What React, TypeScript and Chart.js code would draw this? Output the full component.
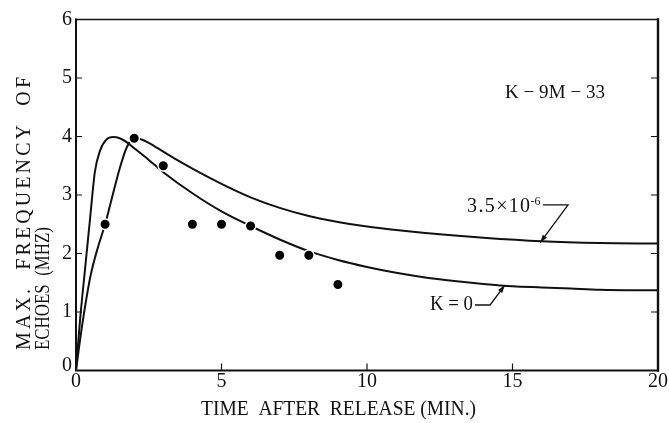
import React, { useEffect, useRef } from "react";
import { Chart, registerables } from "chart.js";

Chart.register(...registerables);

// ---- data ----
const xTicks = [0, 5, 10, 15, 20];
const yTicks = [0, 1, 2, 3, 4, 5, 6];

const obsTime = [1, 2, 3, 4, 5, 6, 7, 8, 9];
const obsFreq = [2.5, 3.97, 3.5, 2.5, 2.5, 2.47, 1.97, 1.97, 1.47];

// curve for K = 3.5x10^-6
const upperTime = [0, 0.1, 0.25, 0.5, 0.75, 1.0, 1.25, 1.5, 1.75, 2.0, 2.25, 2.5, 3, 3.5, 4, 5, 6, 7, 8, 9, 10, 11, 12, 14, 16, 18, 20];
const upperFreq = [0, 0.38, 0.9, 1.62, 2.1, 2.5, 2.98, 3.45, 3.82, 3.97, 3.95, 3.89, 3.74, 3.59, 3.45, 3.19, 2.96, 2.78, 2.64, 2.54, 2.46, 2.4, 2.35, 2.27, 2.21, 2.18, 2.17];

// curve for K = 0
const lowerTime = [0, 0.14, 0.31, 0.48, 0.65, 0.82, 1.05, 1.28, 1.5, 1.75, 2.0, 2.5, 3, 4, 5, 6, 7, 8, 9, 10, 11, 12, 13, 14, 15, 16, 17, 18, 20];
const lowerFreq = [0, 0.87, 1.73, 2.58, 3.4, 3.75, 3.95, 3.99, 3.97, 3.9, 3.8, 3.6, 3.39, 3.03, 2.72, 2.47, 2.24, 2.04, 1.89, 1.77, 1.67, 1.59, 1.53, 1.48, 1.44, 1.42, 1.4, 1.38, 1.37];

const xTitle = "TIME  AFTER  RELEASE (MIN.)";
const yTitle = ["MAX.  FREQUENCY  OF", "ECHOES  (MHZ)"];
const idLabel = "K − 9M − 33";
const upperLabel = "3.5×10";
const upperExp = "-6";
const lowerLabel = "K = 0";

// annotation anchors in data units
const idPos = [16.46, 4.75];
const upperTextPos = [13.44, 2.8];
const upperElbow = [[16.05, 2.83], [16.91, 2.83]];
const upperTip = [15.95, 2.185];
const lowerTextPos = [13.64, 1.12];
const lowerElbow = [[13.71, 1.12], [14.23, 1.12]];
const lowerTip = [14.74, 1.46];

const FONT = '"Liberation Serif", "Times New Roman", "DejaVu Serif", serif';
const INK = "#111";

type Align = "left" | "center" | "right";

function drawText(
  ctx: CanvasRenderingContext2D,
  text: string,
  x: number,
  y: number,
  opts: { size: number; align?: Align; width?: number; rot?: number }
) {
  ctx.save();
  ctx.font = `${opts.size}px ${FONT}`;
  ctx.fillStyle = INK;
  ctx.textBaseline = "middle";
  ctx.textAlign = "left";
  ctx.translate(x, y);
  if (opts.rot) ctx.rotate(opts.rot);
  const natural = ctx.measureText(text).width;
  let w = natural;
  let sx = 1;
  let ls = 0;
  const chars = Array.from(text);
  if (opts.width) {
    if (natural > opts.width) sx = opts.width / natural;
    else if (chars.length > 1) ls = (opts.width - natural) / (chars.length - 1);
    w = opts.width;
  }
  const off = opts.align === "center" ? -w / 2 : opts.align === "right" ? -w : 0;
  ctx.translate(off, 0);
  ctx.scale(sx, 1);
  if (ls) {
    let cx = 0;
    for (const ch of chars) {
      ctx.fillText(ch, cx, 0);
      cx += ctx.measureText(ch).width + ls;
    }
  } else {
    ctx.fillText(text, 0, 0);
  }
  ctx.restore();
}

function arrowHead(ctx: CanvasRenderingContext2D, fx: number, fy: number, tx: number, ty: number) {
  const ang = Math.atan2(ty - fy, tx - fx);
  const len = 8;
  const half = 2.6;
  ctx.beginPath();
  ctx.moveTo(tx, ty);
  ctx.lineTo(tx - len * Math.cos(ang) + half * Math.sin(ang), ty - len * Math.sin(ang) - half * Math.cos(ang));
  ctx.lineTo(tx - len * Math.cos(ang) - half * Math.sin(ang), ty - len * Math.sin(ang) + half * Math.cos(ang));
  ctx.closePath();
  ctx.fill();
}

const paperPlugin = {
  id: "paper",
  afterDraw(chart: any) {
    const { ctx, chartArea: a, scales } = chart;
    const xs = scales.x;
    const ys = scales.y;
    const X = (v: number) => xs.getPixelForValue(v);
    const Y = (v: number) => ys.getPixelForValue(v);
    ctx.save();
    ctx.strokeStyle = INK;
    ctx.fillStyle = INK;
    ctx.lineCap = "square";

    // frame
    ctx.lineWidth = 2;
    ctx.beginPath();
    ctx.moveTo(a.left, a.top);
    ctx.lineTo(a.left, a.bottom);
    ctx.lineTo(a.right, a.bottom);
    ctx.stroke();
    ctx.lineWidth = 1.6;
    ctx.beginPath();
    ctx.moveTo(a.left, a.top);
    ctx.lineTo(a.right, a.top);
    ctx.stroke();
    ctx.lineWidth = 2.4;
    ctx.beginPath();
    ctx.moveTo(a.right, a.top);
    ctx.lineTo(a.right, a.bottom);
    ctx.stroke();

    // inward ticks
    ctx.lineWidth = 1.2;
    ctx.lineCap = "butt";
    for (const v of yTicks) {
      if (v <= 0 || v >= 6) continue;
      const py = Y(v);
      ctx.beginPath();
      ctx.moveTo(a.left, py);
      ctx.lineTo(a.left + 6, py);
      ctx.moveTo(a.right - 7, py);
      ctx.lineTo(a.right, py);
      ctx.stroke();
    }
    for (const v of xTicks) {
      if (v <= 0 || v >= 20) continue;
      const px = X(v);
      ctx.beginPath();
      ctx.moveTo(px, a.bottom);
      ctx.lineTo(px, a.bottom - 7);
      ctx.stroke();
    }

    // tick labels
    for (const v of yTicks) {
      drawText(ctx, String(v), a.left - 4, Y(v) - (v === 0 ? 5 : 0), { size: 20, align: "right" });
    }
    for (const v of xTicks) {
      drawText(ctx, String(v), X(v), a.bottom + 11, { size: 20, align: "center" });
    }

    // axis titles
    drawText(ctx, xTitle, a.left + 262.5, a.bottom + 39.5, { size: 20, align: "center", width: 275 });
    drawText(ctx, yTitle[0], 25, a.bottom - 20.5, { size: 20, align: "left", width: 273, rot: -Math.PI / 2 });
    drawText(ctx, yTitle[1], 43.5, a.bottom - 20.5, { size: 20, align: "left", width: 123, rot: -Math.PI / 2 });

    // identifier
    drawText(ctx, idLabel, X(idPos[0]), Y(idPos[1]), { size: 19, align: "center", width: 100 });

    // upper curve label
    drawText(ctx, upperLabel, X(upperTextPos[0]), Y(upperTextPos[1]), { size: 20, align: "left", width: 63 });
    drawText(ctx, upperExp, X(upperTextPos[0]) + 63.5, Y(upperTextPos[1]) - 5, { size: 12, align: "left" });
    ctx.lineWidth = 1.3;
    ctx.beginPath();
    ctx.moveTo(X(upperElbow[0][0]), Y(upperElbow[0][1]));
    ctx.lineTo(X(upperElbow[1][0]), Y(upperElbow[1][1]));
    ctx.lineTo(X(upperTip[0]), Y(upperTip[1]));
    ctx.stroke();
    arrowHead(ctx, X(upperElbow[1][0]), Y(upperElbow[1][1]), X(upperTip[0]), Y(upperTip[1]));

    // lower curve label
    drawText(ctx, lowerLabel, X(lowerTextPos[0]), Y(lowerTextPos[1]), { size: 20, align: "right", width: 43 });
    ctx.beginPath();
    ctx.moveTo(X(lowerElbow[0][0]), Y(lowerElbow[0][1]));
    ctx.lineTo(X(lowerElbow[1][0]), Y(lowerElbow[1][1]));
    ctx.lineTo(X(lowerTip[0]), Y(lowerTip[1]));
    ctx.stroke();
    arrowHead(ctx, X(lowerElbow[1][0]), Y(lowerElbow[1][1]), X(lowerTip[0]), Y(lowerTip[1]));

    ctx.restore();
  },
};

export default function App() {
  const ref = useRef<HTMLCanvasElement | null>(null);

  useEffect(() => {
    document.body.style.margin = "0";
    const canvas = ref.current;
    if (!canvas) return;
    const toXY = (xs: number[], ys: number[]) => xs.map((x, i) => ({ x, y: ys[i] }));
    const chart = new Chart(canvas, {
      type: "line",
      data: {
        datasets: [
          {
            label: "observed",
            data: toXY(obsTime, obsFreq),
            showLine: false,
            pointRadius: 5.2,
            pointBackgroundColor: "#000",
            pointBorderColor: "#fff",
            pointBorderWidth: 1.4,
            order: 0,
          },
          {
            label: "3.5×10^-6",
            data: toXY(upperTime, upperFreq),
            borderColor: INK,
            borderWidth: 2,
            pointRadius: 0,
            cubicInterpolationMode: "monotone",
            fill: false,
            order: 1,
          },
          {
            label: "K=0",
            data: toXY(lowerTime, lowerFreq),
            borderColor: INK,
            borderWidth: 2,
            pointRadius: 0,
            cubicInterpolationMode: "monotone",
            fill: false,
            order: 2,
          },
        ],
      } as any,
      options: {
        responsive: false,
        animation: false,
        events: [],
        layout: { padding: { top: 19.5, right: 11, left: 0, bottom: 0 } },
        plugins: { legend: { display: false }, tooltip: { enabled: false } },
        scales: {
          x: {
            type: "linear",
            min: 0,
            max: 20,
            ticks: { display: false },
            grid: { display: false },
            border: { display: false },
            afterFit: (s: any) => {
              s.height = 52.5;
            },
          },
          y: {
            type: "linear",
            min: 0,
            max: 6,
            ticks: { display: false },
            grid: { display: false },
            border: { display: false },
            afterFit: (s: any) => {
              s.width = 76;
            },
          },
        },
      } as any,
      plugins: [paperPlugin],
    });
    return () => chart.destroy();
  }, []);

  return (
    <div style={{ width: 669, height: 423, background: "#fff" }}>
      <canvas ref={ref} width={669} height={423} />
    </div>
  );
}
